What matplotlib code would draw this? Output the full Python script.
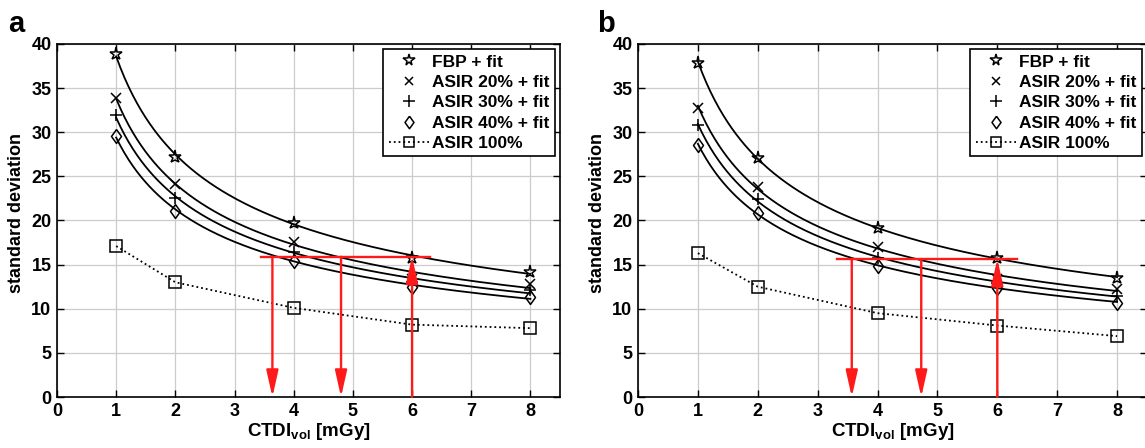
import numpy as np
import matplotlib
matplotlib.use('Agg')
import matplotlib.pyplot as plt

plt.rcParams['font.family'] = ['Liberation Sans', 'DejaVu Sans']
plt.rcParams['font.weight'] = 'bold'
plt.rcParams['axes.labelweight'] = 'bold'
plt.rcParams['mathtext.fontset'] = 'custom'
plt.rcParams['mathtext.rm'] = 'Liberation Sans:bold'
plt.rcParams['mathtext.it'] = 'Liberation Sans:bold'
plt.rcParams['mathtext.bf'] = 'Liberation Sans:bold'

# CTDIvol values (mGy)
dose = [1, 2, 4, 6, 8]
labels = ['FBP + fit', 'ASIR 20% + fit', 'ASIR 30% + fit', 'ASIR 40% + fit', 'ASIR 100%']

# panel a
a_fbp = [38.9, 27.2, 19.7, 15.7, 14.2]
a_asir20 = [33.9, 24.1, 17.6, 13.4, 12.8]
a_asir30 = [31.9, 22.6, 16.4, 13.0, 12.1]
a_asir40 = [29.6, 21.1, 15.4, 12.5, 11.3]
a_asir100 = [17.1, 13.0, 10.1, 8.2, 7.8]
a_level = 15.9
a_span = [3.45, 6.3]
a_down = [3.64, 4.8]

# panel b
b_fbp = [37.9, 27.1, 19.1, 15.8, 13.5]
b_asir20 = [32.8, 23.8, 17.0, 13.4, 12.2]
b_asir30 = [30.8, 22.4, 15.8, 12.9, 11.5]
b_asir40 = [28.5, 20.9, 14.9, 12.4, 10.7]
b_asir100 = [16.3, 12.5, 9.5, 8.1, 6.9]
b_level = 15.65
b_span = [3.32, 6.33]
b_down = [3.57, 4.73]

# matlab style diamond (a bit taller than wide)
diamond = [(0, 1), (0.72, 0), (0, -1), (-0.72, 0), (0, 1)]
markers = ['*', 'x', '+', diamond]
msizes = [9.5, 7, 9, 10]
ARROW = '-|>,head_length=0.8,head_width=0.18'


def panel(ax, fitted, asir100, level, span, down):
    xf = np.linspace(1, 8, 200)
    for y, m, ms, lab in zip(fitted, markers, msizes, labels):
        # power-law fit of the points, as drawn in the paper
        b, loga = np.polyfit(np.log(dose), np.log(y), 1)
        ax.plot(xf, np.exp(loga) * xf ** b, color='black', lw=1.3, zorder=3)
        ax.plot(dose, y, ls='none', marker=m, ms=ms, mfc='none', mec='black',
                mew=1.1, label=lab, zorder=4)
    ax.plot(dose, asir100, ls=':', color='black', lw=1.3, marker='s', ms=8.5,
            mfc='none', mec='black', mew=1.1, label=labels[4], zorder=4)

    red = '#ff1a1a'
    ax.plot(span, [level, level], color=red, lw=1.7, zorder=5)
    for xd in down:
        ax.annotate('', xy=(xd, 0), xytext=(xd, level),
                    arrowprops=dict(arrowstyle=ARROW, color=red, lw=1.7,
                                    shrinkA=0, shrinkB=0, mutation_scale=20), zorder=5)
    ax.annotate('', xy=(6, level), xytext=(6, 0),
                arrowprops=dict(arrowstyle=ARROW, color=red, lw=1.7,
                                shrinkA=0, shrinkB=0, mutation_scale=20), zorder=5)

    ax.set_xlim(0, 8.5)
    ax.set_ylim(0, 40)
    ax.set_xticks(range(0, 9))
    ax.set_yticks(range(0, 41, 5))
    ax.grid(True, color='#cccccc', lw=0.9)
    ax.set_axisbelow(True)
    ax.tick_params(direction='in', top=True, right=True, labelsize=13, length=5,
                   width=1.0, pad=4)
    for s in ax.spines.values():
        s.set_linewidth(1.2)
    ax.set_xlabel(r'CTDI$_{\rm vol}$ [mGy]', fontsize=13.5, labelpad=1)
    ax.set_ylabel('standard deviation', fontsize=13)
    ax.yaxis.set_label_coords(-0.063, 0.52)
    leg = ax.legend(loc='upper right', fontsize=12.5, frameon=True, fancybox=False,
                    edgecolor='black', framealpha=1, borderaxespad=0.3,
                    handlelength=2.3, handletextpad=0.2, labelspacing=0.3,
                    borderpad=0.3, markerscale=0.9)
    leg.get_frame().set_linewidth(1.2)


fig = plt.figure(figsize=(11.45, 4.48), dpi=100)
W, H = 1145.0, 448.0
ax_a = fig.add_axes([57 / W, 51 / H, 503 / W, 353 / H])
ax_b = fig.add_axes([638 / W, 51 / H, 509 / W, 353 / H])

panel(ax_a, [a_fbp, a_asir20, a_asir30, a_asir40], a_asir100, a_level, a_span, a_down)
panel(ax_b, [b_fbp, b_asir20, b_asir30, b_asir40], b_asir100, b_level, b_span, b_down)

fig.text(8 / W, 1 - 32 / H, 'a', fontsize=21, fontweight='bold', va='baseline')
fig.text(597 / W, 1 - 32 / H, 'b', fontsize=21, fontweight='bold', va='baseline')

fig.savefig('out.png', dpi=100)
